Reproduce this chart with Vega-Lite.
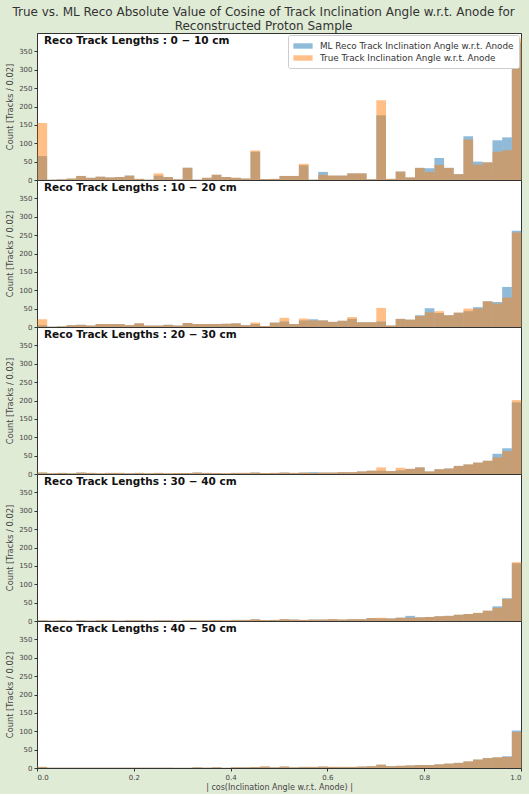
{
"$schema": "https://vega.github.io/schema/vega-lite/v6.json",
"background": "#e0ebd6",
"padding": {"left": 5, "top": 5, "right": 9, "bottom": 2},
"spacing": 0,
"bounds": "flush",
"title": {"text": ["True vs. ML Reco Absolute Value of Cosine of Track Inclination Angle w.r.t. Anode for", "Reconstructed Proton Sample"], "fontSize": 12, "fontWeight": "normal", "color": "#333", "anchor": "middle", "offset": 0, "lineHeight": 14, "font": "DejaVu Sans"},
"config": {
 "font": "DejaVu Sans",
 "view": {"stroke": "#333", "strokeWidth": 1, "fill": "white"},
 "axis": {"domainColor": "#333", "tickColor": "#333", "labelColor": "#444", "titleColor": "#444", "labelFontSize": 7, "titleFontSize": 8.3, "titleFontWeight": "normal", "tickSize": 3, "labelPadding": 2, "grid": false},
 "axisY": {"titlePadding": 4}
},
"resolve": {"scale": {"color": "independent"}, "legend": {"color": "independent"}},
"datasets": {
"d1": [
{"lo":0,"hi":0.02,"ml":65,"tr":155},{"lo":0.02,"hi":0.04,"ml":1,"tr":1},{"lo":0.04,"hi":0.06,"ml":2,"tr":2},{"lo":0.06,"hi":0.08,"ml":4,"tr":4},{"lo":0.08,"hi":0.1,"ml":11,"tr":11},
{"lo":0.1,"hi":0.12,"ml":6,"tr":6},{"lo":0.12,"hi":0.14,"ml":9,"tr":9},{"lo":0.14,"hi":0.16,"ml":7,"tr":7},{"lo":0.16,"hi":0.18,"ml":8,"tr":8},{"lo":0.18,"hi":0.2,"ml":12,"tr":12},
{"lo":0.2,"hi":0.22,"ml":3,"tr":3},{"lo":0.22,"hi":0.24,"ml":1,"tr":1},{"lo":0.24,"hi":0.26,"ml":12,"tr":18},{"lo":0.26,"hi":0.28,"ml":8,"tr":8},{"lo":0.28,"hi":0.3,"ml":2,"tr":2},
{"lo":0.3,"hi":0.32,"ml":33,"tr":33},{"lo":0.32,"hi":0.34,"ml":1,"tr":1},{"lo":0.34,"hi":0.36,"ml":6,"tr":6},{"lo":0.36,"hi":0.38,"ml":14,"tr":14},{"lo":0.38,"hi":0.4,"ml":8,"tr":8},
{"lo":0.4,"hi":0.42,"ml":6,"tr":6},{"lo":0.42,"hi":0.44,"ml":4,"tr":4},{"lo":0.44,"hi":0.46,"ml":77,"tr":80},{"lo":0.46,"hi":0.48,"ml":3,"tr":3},{"lo":0.48,"hi":0.5,"ml":3,"tr":3},
{"lo":0.5,"hi":0.52,"ml":11,"tr":11},{"lo":0.52,"hi":0.54,"ml":11,"tr":11},{"lo":0.54,"hi":0.56,"ml":40,"tr":44},{"lo":0.56,"hi":0.58,"ml":1,"tr":1},{"lo":0.58,"hi":0.6,"ml":22,"tr":14},
{"lo":0.6,"hi":0.62,"ml":12,"tr":12},{"lo":0.62,"hi":0.64,"ml":12,"tr":12},{"lo":0.64,"hi":0.66,"ml":18,"tr":18},{"lo":0.66,"hi":0.68,"ml":18,"tr":18},{"lo":0.68,"hi":0.7,"ml":2,"tr":2},
{"lo":0.7,"hi":0.72,"ml":176,"tr":217},{"lo":0.72,"hi":0.74,"ml":3,"tr":3},{"lo":0.74,"hi":0.76,"ml":23,"tr":23},{"lo":0.76,"hi":0.78,"ml":7,"tr":7},{"lo":0.78,"hi":0.8,"ml":33,"tr":33},
{"lo":0.8,"hi":0.82,"ml":32,"tr":22},{"lo":0.82,"hi":0.84,"ml":60,"tr":41},{"lo":0.84,"hi":0.86,"ml":33,"tr":33},{"lo":0.86,"hi":0.88,"ml":16,"tr":16},{"lo":0.88,"hi":0.9,"ml":119,"tr":110},
{"lo":0.9,"hi":0.92,"ml":50,"tr":42},{"lo":0.92,"hi":0.94,"ml":48,"tr":48},{"lo":0.94,"hi":0.96,"ml":108,"tr":77},{"lo":0.96,"hi":0.98,"ml":116,"tr":81},{"lo":0.98,"hi":1,"ml":375,"tr":385}
],
"d2": [
{"lo":0,"hi":0.02,"ml":5,"tr":21},{"lo":0.02,"hi":0.04,"ml":1,"tr":1},{"lo":0.04,"hi":0.06,"ml":2,"tr":2},{"lo":0.06,"hi":0.08,"ml":5,"tr":5},{"lo":0.08,"hi":0.1,"ml":6,"tr":6},
{"lo":0.1,"hi":0.12,"ml":4,"tr":4},{"lo":0.12,"hi":0.14,"ml":8,"tr":8},{"lo":0.14,"hi":0.16,"ml":8,"tr":8},{"lo":0.16,"hi":0.18,"ml":8,"tr":8},{"lo":0.18,"hi":0.2,"ml":5,"tr":5},
{"lo":0.2,"hi":0.22,"ml":10,"tr":10},{"lo":0.22,"hi":0.24,"ml":4,"tr":4},{"lo":0.24,"hi":0.26,"ml":4,"tr":4},{"lo":0.26,"hi":0.28,"ml":6,"tr":6},{"lo":0.28,"hi":0.3,"ml":4,"tr":4},
{"lo":0.3,"hi":0.32,"ml":11,"tr":11},{"lo":0.32,"hi":0.34,"ml":8,"tr":8},{"lo":0.34,"hi":0.36,"ml":8,"tr":8},{"lo":0.36,"hi":0.38,"ml":8,"tr":8},{"lo":0.38,"hi":0.4,"ml":9,"tr":9},
{"lo":0.4,"hi":0.42,"ml":10,"tr":10},{"lo":0.42,"hi":0.44,"ml":5,"tr":5},{"lo":0.44,"hi":0.46,"ml":8,"tr":12},{"lo":0.46,"hi":0.48,"ml":3,"tr":3},{"lo":0.48,"hi":0.5,"ml":12,"tr":12},
{"lo":0.5,"hi":0.52,"ml":15,"tr":25},{"lo":0.52,"hi":0.54,"ml":8,"tr":8},{"lo":0.54,"hi":0.56,"ml":18,"tr":23},{"lo":0.56,"hi":0.58,"ml":21,"tr":18},{"lo":0.58,"hi":0.6,"ml":18,"tr":18},
{"lo":0.6,"hi":0.62,"ml":14,"tr":14},{"lo":0.62,"hi":0.64,"ml":17,"tr":17},{"lo":0.64,"hi":0.66,"ml":22,"tr":27},{"lo":0.66,"hi":0.68,"ml":13,"tr":13},{"lo":0.68,"hi":0.7,"ml":13,"tr":13},
{"lo":0.7,"hi":0.72,"ml":15,"tr":52},{"lo":0.72,"hi":0.74,"ml":4,"tr":4},{"lo":0.74,"hi":0.76,"ml":22,"tr":22},{"lo":0.76,"hi":0.78,"ml":20,"tr":20},{"lo":0.78,"hi":0.8,"ml":32,"tr":30},
{"lo":0.8,"hi":0.82,"ml":51,"tr":40},{"lo":0.82,"hi":0.84,"ml":38,"tr":43},{"lo":0.84,"hi":0.86,"ml":32,"tr":32},{"lo":0.86,"hi":0.88,"ml":39,"tr":39},{"lo":0.88,"hi":0.9,"ml":43,"tr":50},
{"lo":0.9,"hi":0.92,"ml":54,"tr":50},{"lo":0.92,"hi":0.94,"ml":70,"tr":70},{"lo":0.94,"hi":0.96,"ml":68,"tr":64},{"lo":0.96,"hi":0.98,"ml":109,"tr":80},{"lo":0.98,"hi":1,"ml":262,"tr":257}
],
"d3": [
{"lo":0,"hi":0.02,"ml":4,"tr":4},{"lo":0.02,"hi":0.04,"ml":2,"tr":2},{"lo":0.04,"hi":0.06,"ml":3,"tr":3},{"lo":0.06,"hi":0.08,"ml":2,"tr":2},{"lo":0.08,"hi":0.1,"ml":4,"tr":4},
{"lo":0.1,"hi":0.12,"ml":3,"tr":3},{"lo":0.12,"hi":0.14,"ml":2,"tr":2},{"lo":0.14,"hi":0.16,"ml":3,"tr":3},{"lo":0.16,"hi":0.18,"ml":3,"tr":3},{"lo":0.18,"hi":0.2,"ml":2,"tr":2},
{"lo":0.2,"hi":0.22,"ml":3,"tr":3},{"lo":0.22,"hi":0.24,"ml":2,"tr":2},{"lo":0.24,"hi":0.26,"ml":3,"tr":3},{"lo":0.26,"hi":0.28,"ml":2,"tr":2},{"lo":0.28,"hi":0.3,"ml":3,"tr":3},
{"lo":0.3,"hi":0.32,"ml":3,"tr":3},{"lo":0.32,"hi":0.34,"ml":4,"tr":4},{"lo":0.34,"hi":0.36,"ml":3,"tr":3},{"lo":0.36,"hi":0.38,"ml":3,"tr":3},{"lo":0.38,"hi":0.4,"ml":2,"tr":2},
{"lo":0.4,"hi":0.42,"ml":3,"tr":3},{"lo":0.42,"hi":0.44,"ml":3,"tr":3},{"lo":0.44,"hi":0.46,"ml":4,"tr":4},{"lo":0.46,"hi":0.48,"ml":3,"tr":3},{"lo":0.48,"hi":0.5,"ml":3,"tr":3},
{"lo":0.5,"hi":0.52,"ml":4,"tr":4},{"lo":0.52,"hi":0.54,"ml":3,"tr":3},{"lo":0.54,"hi":0.56,"ml":4,"tr":4},{"lo":0.56,"hi":0.58,"ml":5,"tr":3},{"lo":0.58,"hi":0.6,"ml":4,"tr":4},
{"lo":0.6,"hi":0.62,"ml":4,"tr":4},{"lo":0.62,"hi":0.64,"ml":5,"tr":5},{"lo":0.64,"hi":0.66,"ml":5,"tr":5},{"lo":0.66,"hi":0.68,"ml":7,"tr":7},{"lo":0.68,"hi":0.7,"ml":9,"tr":9},
{"lo":0.7,"hi":0.72,"ml":9,"tr":18},{"lo":0.72,"hi":0.74,"ml":8,"tr":8},{"lo":0.74,"hi":0.76,"ml":10,"tr":17},{"lo":0.76,"hi":0.78,"ml":14,"tr":14},{"lo":0.78,"hi":0.8,"ml":18,"tr":18},
{"lo":0.8,"hi":0.82,"ml":7,"tr":7},{"lo":0.82,"hi":0.84,"ml":13,"tr":13},{"lo":0.84,"hi":0.86,"ml":15,"tr":15},{"lo":0.86,"hi":0.88,"ml":22,"tr":22},{"lo":0.88,"hi":0.9,"ml":26,"tr":26},
{"lo":0.9,"hi":0.92,"ml":31,"tr":31},{"lo":0.92,"hi":0.94,"ml":36,"tr":36},{"lo":0.94,"hi":0.96,"ml":55,"tr":45},{"lo":0.96,"hi":0.98,"ml":70,"tr":62},{"lo":0.98,"hi":1,"ml":195,"tr":201}
],
"d4": [
{"lo":0,"hi":0.02,"ml":2,"tr":2},{"lo":0.02,"hi":0.04,"ml":1,"tr":1},{"lo":0.04,"hi":0.06,"ml":2,"tr":2},{"lo":0.06,"hi":0.08,"ml":1,"tr":1},{"lo":0.08,"hi":0.1,"ml":2,"tr":2},
{"lo":0.1,"hi":0.12,"ml":1,"tr":1},{"lo":0.12,"hi":0.14,"ml":2,"tr":2},{"lo":0.14,"hi":0.16,"ml":2,"tr":2},{"lo":0.16,"hi":0.18,"ml":1,"tr":1},{"lo":0.18,"hi":0.2,"ml":2,"tr":2},
{"lo":0.2,"hi":0.22,"ml":2,"tr":2},{"lo":0.22,"hi":0.24,"ml":1,"tr":1},{"lo":0.24,"hi":0.26,"ml":2,"tr":2},{"lo":0.26,"hi":0.28,"ml":2,"tr":2},{"lo":0.28,"hi":0.3,"ml":1,"tr":1},
{"lo":0.3,"hi":0.32,"ml":2,"tr":2},{"lo":0.32,"hi":0.34,"ml":2,"tr":2},{"lo":0.34,"hi":0.36,"ml":2,"tr":2},{"lo":0.36,"hi":0.38,"ml":3,"tr":3},{"lo":0.38,"hi":0.4,"ml":2,"tr":2},
{"lo":0.4,"hi":0.42,"ml":3,"tr":3},{"lo":0.42,"hi":0.44,"ml":3,"tr":3},{"lo":0.44,"hi":0.46,"ml":5,"tr":5},{"lo":0.46,"hi":0.48,"ml":3,"tr":3},{"lo":0.48,"hi":0.5,"ml":3,"tr":3},
{"lo":0.5,"hi":0.52,"ml":5,"tr":5},{"lo":0.52,"hi":0.54,"ml":4,"tr":4},{"lo":0.54,"hi":0.56,"ml":3,"tr":3},{"lo":0.56,"hi":0.58,"ml":4,"tr":4},{"lo":0.58,"hi":0.6,"ml":4,"tr":4},
{"lo":0.6,"hi":0.62,"ml":5,"tr":5},{"lo":0.62,"hi":0.64,"ml":4,"tr":4},{"lo":0.64,"hi":0.66,"ml":5,"tr":5},{"lo":0.66,"hi":0.68,"ml":5,"tr":5},{"lo":0.68,"hi":0.7,"ml":8,"tr":8},
{"lo":0.7,"hi":0.72,"ml":7,"tr":9},{"lo":0.72,"hi":0.74,"ml":7,"tr":7},{"lo":0.74,"hi":0.76,"ml":9,"tr":9},{"lo":0.76,"hi":0.78,"ml":14,"tr":9},{"lo":0.78,"hi":0.8,"ml":10,"tr":10},
{"lo":0.8,"hi":0.82,"ml":11,"tr":11},{"lo":0.82,"hi":0.84,"ml":13,"tr":13},{"lo":0.84,"hi":0.86,"ml":14,"tr":14},{"lo":0.86,"hi":0.88,"ml":17,"tr":17},{"lo":0.88,"hi":0.9,"ml":19,"tr":19},
{"lo":0.9,"hi":0.92,"ml":22,"tr":22},{"lo":0.92,"hi":0.94,"ml":28,"tr":28},{"lo":0.94,"hi":0.96,"ml":40,"tr":36},{"lo":0.96,"hi":0.98,"ml":62,"tr":60},{"lo":0.98,"hi":1,"ml":157,"tr":160}
],
"d5": [
{"lo":0,"hi":0.02,"ml":3,"tr":3},{"lo":0.02,"hi":0.04,"ml":1,"tr":1},{"lo":0.04,"hi":0.06,"ml":1,"tr":1},{"lo":0.06,"hi":0.08,"ml":1,"tr":1},{"lo":0.08,"hi":0.1,"ml":1,"tr":1},
{"lo":0.1,"hi":0.12,"ml":1,"tr":1},{"lo":0.12,"hi":0.14,"ml":1,"tr":1},{"lo":0.14,"hi":0.16,"ml":1,"tr":1},{"lo":0.16,"hi":0.18,"ml":1,"tr":1},{"lo":0.18,"hi":0.2,"ml":1,"tr":1},
{"lo":0.2,"hi":0.22,"ml":1,"tr":1},{"lo":0.22,"hi":0.24,"ml":1,"tr":1},{"lo":0.24,"hi":0.26,"ml":1,"tr":1},{"lo":0.26,"hi":0.28,"ml":1,"tr":1},{"lo":0.28,"hi":0.3,"ml":1,"tr":1},
{"lo":0.3,"hi":0.32,"ml":1,"tr":1},{"lo":0.32,"hi":0.34,"ml":2,"tr":2},{"lo":0.34,"hi":0.36,"ml":1,"tr":1},{"lo":0.36,"hi":0.38,"ml":2,"tr":2},{"lo":0.38,"hi":0.4,"ml":1,"tr":1},
{"lo":0.4,"hi":0.42,"ml":2,"tr":2},{"lo":0.42,"hi":0.44,"ml":2,"tr":2},{"lo":0.44,"hi":0.46,"ml":3,"tr":3},{"lo":0.46,"hi":0.48,"ml":4,"tr":4},{"lo":0.48,"hi":0.5,"ml":2,"tr":2},
{"lo":0.5,"hi":0.52,"ml":4,"tr":4},{"lo":0.52,"hi":0.54,"ml":2,"tr":2},{"lo":0.54,"hi":0.56,"ml":3,"tr":3},{"lo":0.56,"hi":0.58,"ml":3,"tr":3},{"lo":0.58,"hi":0.6,"ml":4,"tr":4},
{"lo":0.6,"hi":0.62,"ml":3,"tr":3},{"lo":0.62,"hi":0.64,"ml":3,"tr":3},{"lo":0.64,"hi":0.66,"ml":3,"tr":3},{"lo":0.66,"hi":0.68,"ml":4,"tr":4},{"lo":0.68,"hi":0.7,"ml":5,"tr":5},
{"lo":0.7,"hi":0.72,"ml":9,"tr":9},{"lo":0.72,"hi":0.74,"ml":5,"tr":5},{"lo":0.74,"hi":0.76,"ml":6,"tr":6},{"lo":0.76,"hi":0.78,"ml":7,"tr":7},{"lo":0.78,"hi":0.8,"ml":8,"tr":8},
{"lo":0.8,"hi":0.82,"ml":8,"tr":8},{"lo":0.82,"hi":0.84,"ml":10,"tr":10},{"lo":0.84,"hi":0.86,"ml":12,"tr":12},{"lo":0.86,"hi":0.88,"ml":14,"tr":14},{"lo":0.88,"hi":0.9,"ml":18,"tr":18},
{"lo":0.9,"hi":0.92,"ml":23,"tr":23},{"lo":0.92,"hi":0.94,"ml":27,"tr":27},{"lo":0.94,"hi":0.96,"ml":29,"tr":29},{"lo":0.96,"hi":0.98,"ml":32,"tr":30},{"lo":0.98,"hi":1,"ml":102,"tr":98}
]
},
"vconcat": [
{
 "width": 484, "height": 147,
 "data": {"name": "d1"},
 "title": {"text": "Reco Track Lengths :  0 − 10 cm", "anchor": "start", "frame": "group", "orient": "top", "offset": -13, "dx": 7, "fontSize": 10.5, "fontWeight": "bold", "color": "#111"},
 "transform": [{"fold": ["ml", "tr"], "as": ["s", "c"]}],
 "mark": {"type": "bar", "opacity": 0.5, "binSpacing": 0},
 "encoding": {
  "x": {"field": "lo", "type": "quantitative", "bin": {"binned": true}, "scale": {"domain": [0, 1]}, "axis": null},
  "x2": {"field": "hi"},
  "y": {"field": "c", "type": "quantitative", "stack": null, "scale": {"domain": [0, 400], "nice": false}, "axis": {"values": [0, 50, 100, 150, 200, 250, 300, 350], "title": "Count [Tracks / 0.02]"}},
  "color": {"field": "s", "type": "nominal", "scale": {"domain": ["ml", "tr"], "range": ["#1f77b4", "#ff7f0e"]},
   "legend": {"orient": "top-right", "offset": 2, "title": null, "fillColor": "white", "strokeColor": "#cccccc", "padding": 5, "cornerRadius": 2, "labelFontSize": 8.8, "labelColor": "#333", "labelLimit": 300, "labelOffset": 11, "rowPadding": 1, "symbolType": "M-1.6,-0.45H1.6V0.45H-1.6Z", "symbolSize": 144, "symbolOffset": 4, "symbolOpacity": 0.5, "symbolStrokeWidth": 0,
    "labelExpr": "datum.label == 'ml' ? 'ML Reco Track Inclination Angle w.r.t. Anode' : 'True Track Inclination Angle w.r.t. Anode'"}}
 }
},
{
 "width": 484, "height": 147,
 "data": {"name": "d2"},
 "title": {"text": "Reco Track Lengths :  10 − 20 cm", "anchor": "start", "frame": "group", "orient": "top", "offset": -13, "dx": 7, "fontSize": 10.5, "fontWeight": "bold", "color": "#111"},
 "transform": [{"fold": ["ml", "tr"], "as": ["s", "c"]}],
 "mark": {"type": "bar", "opacity": 0.5, "binSpacing": 0},
 "encoding": {
  "x": {"field": "lo", "type": "quantitative", "bin": {"binned": true}, "scale": {"domain": [0, 1]}, "axis": null},
  "x2": {"field": "hi"},
  "y": {"field": "c", "type": "quantitative", "stack": null, "scale": {"domain": [0, 400], "nice": false}, "axis": {"values": [0, 50, 100, 150, 200, 250, 300, 350], "title": "Count [Tracks / 0.02]"}},
  "color": {"field": "s", "type": "nominal", "scale": {"domain": ["ml", "tr"], "range": ["#1f77b4", "#ff7f0e"]}, "legend": null}
 }
},
{
 "width": 484, "height": 147,
 "data": {"name": "d3"},
 "title": {"text": "Reco Track Lengths :  20 − 30 cm", "anchor": "start", "frame": "group", "orient": "top", "offset": -13, "dx": 7, "fontSize": 10.5, "fontWeight": "bold", "color": "#111"},
 "transform": [{"fold": ["ml", "tr"], "as": ["s", "c"]}],
 "mark": {"type": "bar", "opacity": 0.5, "binSpacing": 0},
 "encoding": {
  "x": {"field": "lo", "type": "quantitative", "bin": {"binned": true}, "scale": {"domain": [0, 1]}, "axis": null},
  "x2": {"field": "hi"},
  "y": {"field": "c", "type": "quantitative", "stack": null, "scale": {"domain": [0, 400], "nice": false}, "axis": {"values": [0, 50, 100, 150, 200, 250, 300, 350], "title": "Count [Tracks / 0.02]"}},
  "color": {"field": "s", "type": "nominal", "scale": {"domain": ["ml", "tr"], "range": ["#1f77b4", "#ff7f0e"]}, "legend": null}
 }
},
{
 "width": 484, "height": 147,
 "data": {"name": "d4"},
 "title": {"text": "Reco Track Lengths :  30 − 40 cm", "anchor": "start", "frame": "group", "orient": "top", "offset": -13, "dx": 7, "fontSize": 10.5, "fontWeight": "bold", "color": "#111"},
 "transform": [{"fold": ["ml", "tr"], "as": ["s", "c"]}],
 "mark": {"type": "bar", "opacity": 0.5, "binSpacing": 0},
 "encoding": {
  "x": {"field": "lo", "type": "quantitative", "bin": {"binned": true}, "scale": {"domain": [0, 1]}, "axis": null},
  "x2": {"field": "hi"},
  "y": {"field": "c", "type": "quantitative", "stack": null, "scale": {"domain": [0, 400], "nice": false}, "axis": {"values": [0, 50, 100, 150, 200, 250, 300, 350], "title": "Count [Tracks / 0.02]"}},
  "color": {"field": "s", "type": "nominal", "scale": {"domain": ["ml", "tr"], "range": ["#1f77b4", "#ff7f0e"]}, "legend": null}
 }
},
{
 "width": 484, "height": 147,
 "data": {"name": "d5"},
 "title": {"text": "Reco Track Lengths :  40 − 50 cm", "anchor": "start", "frame": "group", "orient": "top", "offset": -13, "dx": 7, "fontSize": 10.5, "fontWeight": "bold", "color": "#111"},
 "transform": [{"fold": ["ml", "tr"], "as": ["s", "c"]}],
 "mark": {"type": "bar", "opacity": 0.5, "binSpacing": 0},
 "encoding": {
  "x": {"field": "lo", "type": "quantitative", "bin": {"binned": true}, "scale": {"domain": [0, 1]}, "axis": {"values": [0, 0.2, 0.4, 0.6, 0.8, 1], "format": ".1f", "title": "| cos(Inclination Angle w.r.t. Anode) |", "titlePadding": 3, "titleFontSize": 8}},
  "x2": {"field": "hi"},
  "y": {"field": "c", "type": "quantitative", "stack": null, "scale": {"domain": [0, 400], "nice": false}, "axis": {"values": [0, 50, 100, 150, 200, 250, 300, 350], "title": "Count [Tracks / 0.02]"}},
  "color": {"field": "s", "type": "nominal", "scale": {"domain": ["ml", "tr"], "range": ["#1f77b4", "#ff7f0e"]}, "legend": null}
 }
}
]
}
